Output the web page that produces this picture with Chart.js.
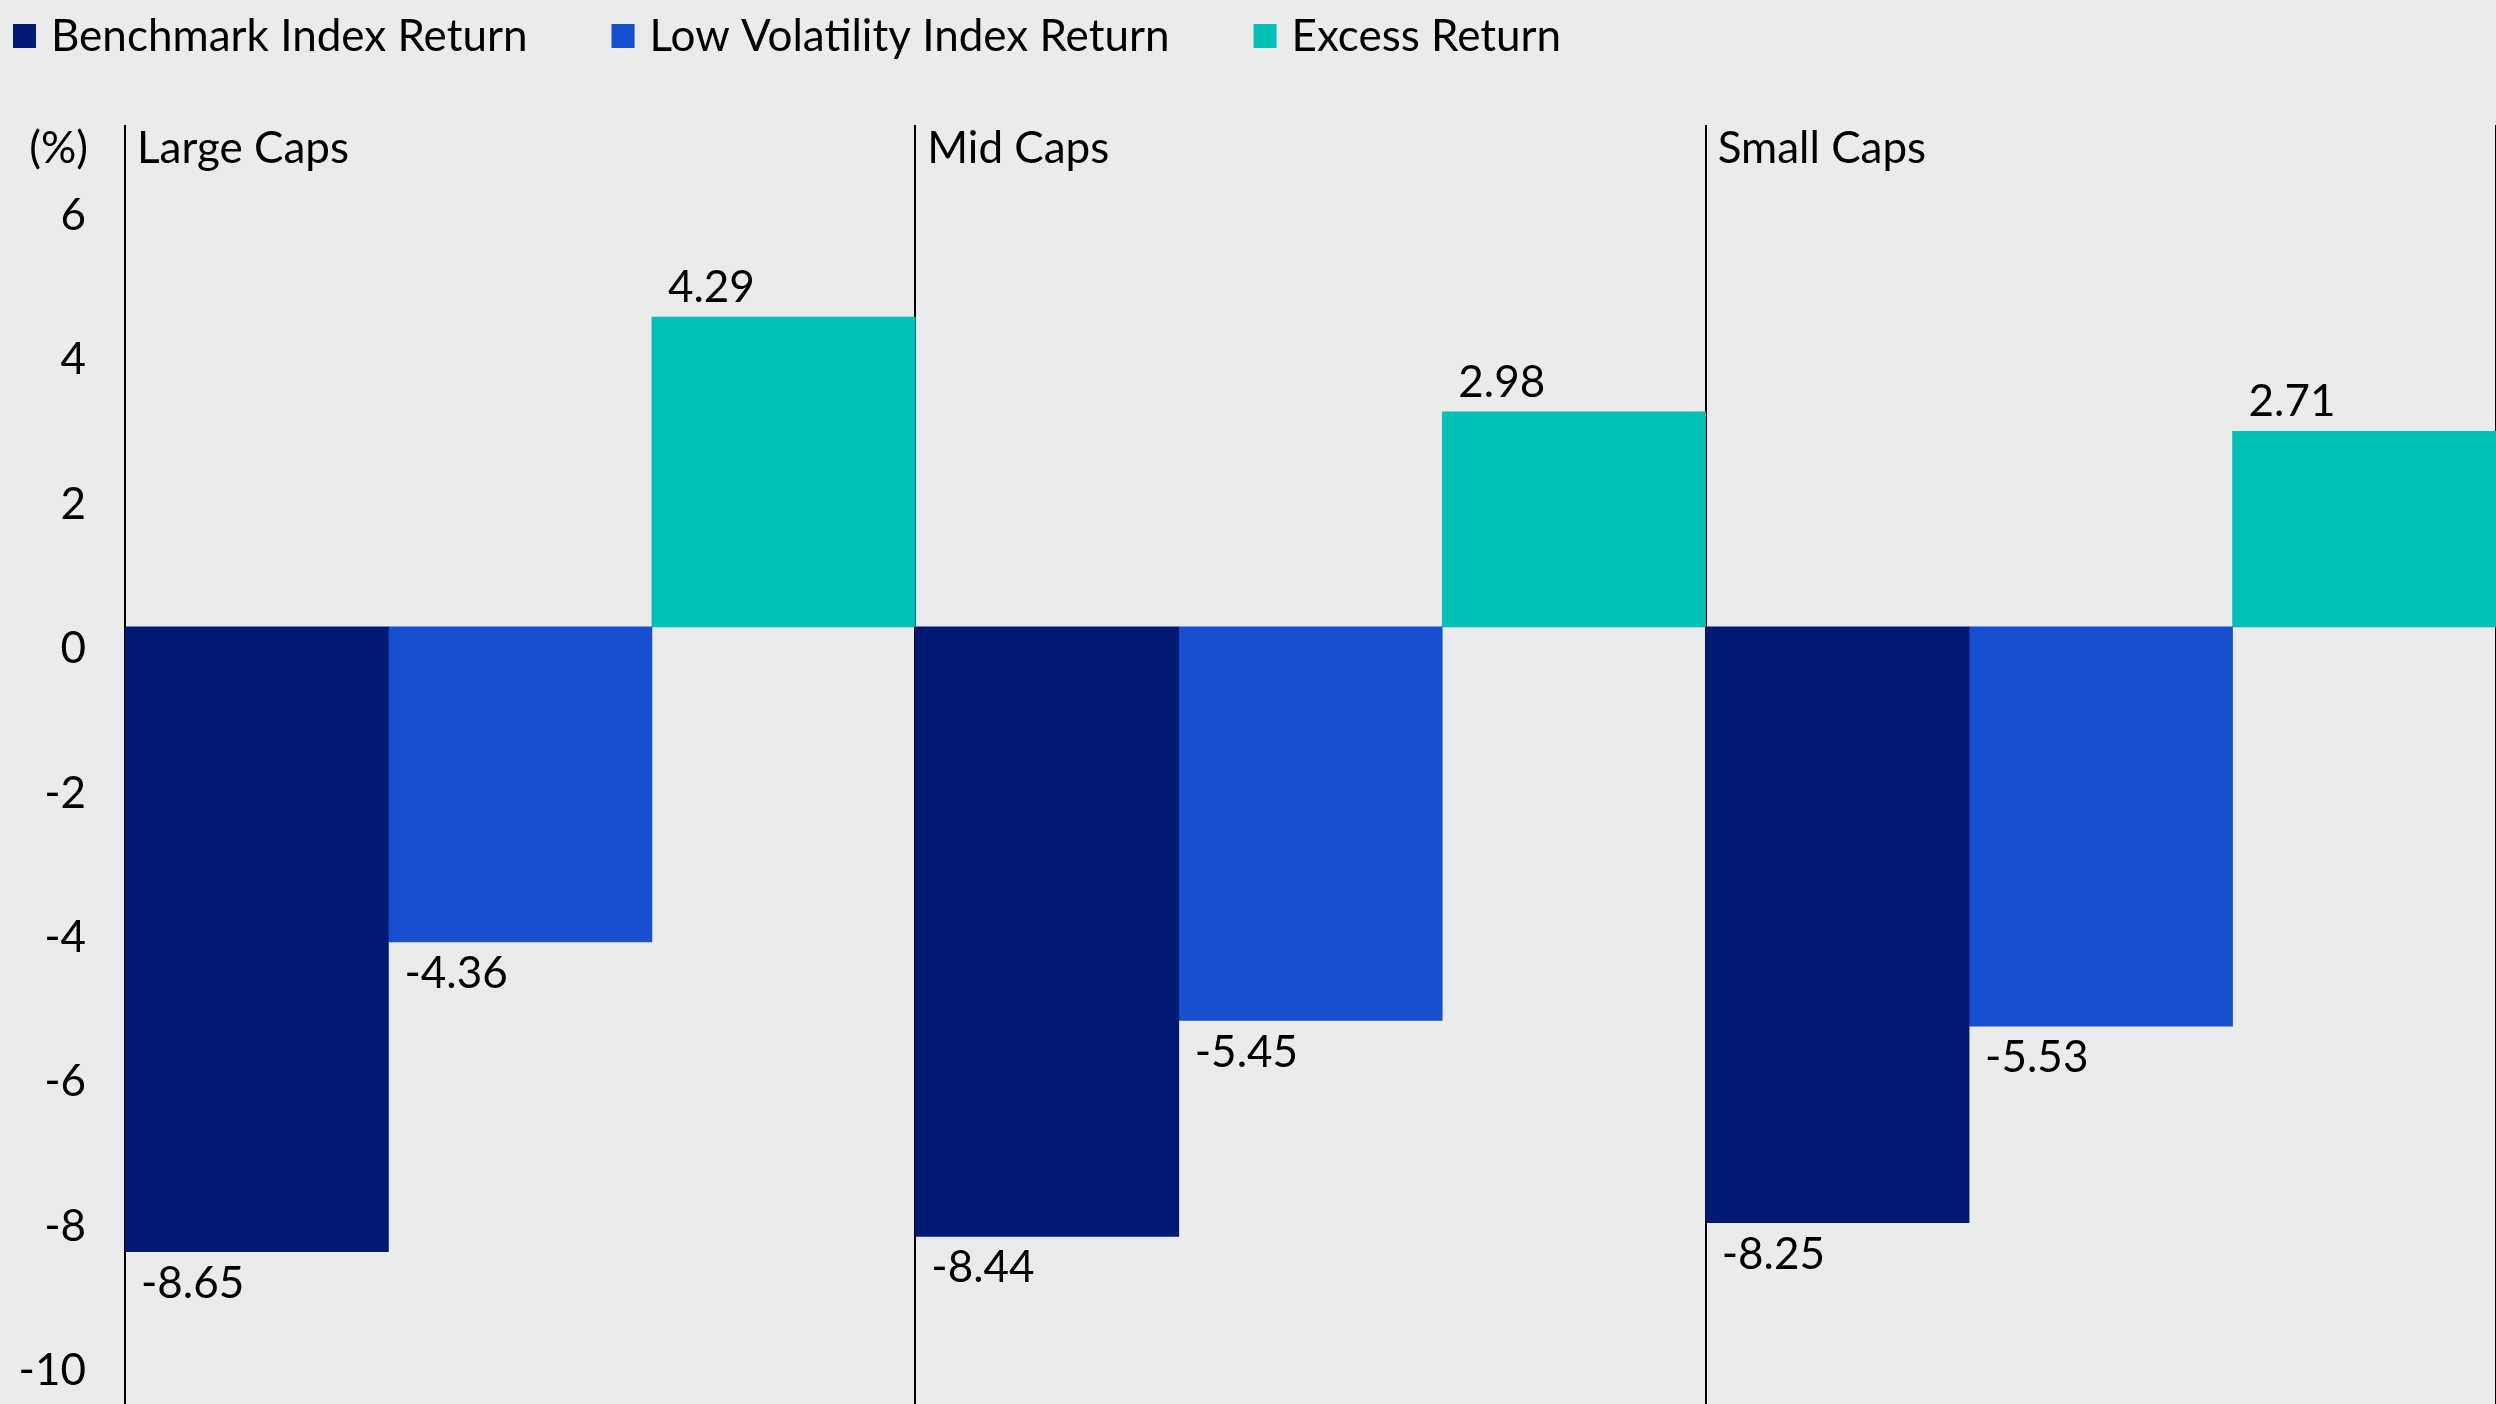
<!DOCTYPE html>
<html><head><meta charset="utf-8">
<script src="https://cdn.jsdelivr.net/npm/chart.js@4.4.1/dist/chart.umd.min.js"></script>
<style>
html,body{margin:0;padding:0;background:#ebebeb;overflow:hidden;}
#wrap{width:2496px;height:1404px;position:relative;}
canvas{display:block;}
</style></head><body>
<div id="wrap"><canvas id="c" width="2496" height="1404"></canvas></div>
<script>
const categories = ['Large Caps', 'Mid Caps', 'Small Caps'];
const seriesNames = ['Benchmark Index Return', 'Low Volatility Index Return', 'Excess Return'];
const benchmarkReturn = [-8.65, -8.44, -8.25];
const lowVolReturn = [-4.36, -5.45, -5.53];
const excessReturn = [4.29, 2.98, 2.71];
const yTickValues = [6, 4, 2, 0, -2, -4, -6, -8, -10];
const yUnitLabel = '(%)';
const seriesColors = ['#001a73', '#1650d0', '#00c0b6'];
const FONT_FAMILY = 'Lato';
const FONT_SIZE = 44;

const overlay = {
  id: 'overlay',
  afterDatasetsDraw(chart) {
    const ctx = chart.ctx;
    const xs = chart.scales.x;
    const area = chart.chartArea;
    ctx.save();
    ctx.fillStyle = '#000';
    ctx.font = FONT_SIZE + 'px ' + FONT_FAMILY;
    ctx.textBaseline = 'alphabetic';
    ctx.textAlign = 'left';
    // value labels
    chart.data.datasets.forEach((ds, di) => {
      const meta = chart.getDatasetMeta(di);
      meta.data.forEach((bar, i) => {
        const v = ds.data[i];
        const left = bar.x - bar.width / 2;
        const y = v >= 0 ? bar.y - 15 : bar.y + 46;
        ctx.fillText(v.toFixed(2), left + 16, y);
      });
    });
    // category labels
    const catW = xs.width / categories.length;
    categories.forEach((c, i) => {
      ctx.fillText(c, xs.getPixelForValue(i) - catW / 2 + 12, area.top + 38);
    });
    // unit label
    ctx.textAlign = 'right';
    ctx.fillText(yUnitLabel, area.left - 37, area.top + 38);
    // legend
    ctx.textAlign = 'left';
    let lx = 13;
    chart.data.datasets.forEach((ds, di) => {
      ctx.fillStyle = ds.backgroundColor;
      ctx.fillRect(lx, 24, 23, 24);
      ctx.fillStyle = '#000';
      ctx.fillText(ds.label, lx + 38, 51);
      lx += 38 + ctx.measureText(ds.label).width + 84;
    });
    ctx.restore();
  }
};

new Chart(document.getElementById('c'), {
  type: 'bar',
  data: {
    labels: categories,
    datasets: [
      { label: seriesNames[0], data: benchmarkReturn, backgroundColor: seriesColors[0] },
      { label: seriesNames[1], data: lowVolReturn, backgroundColor: seriesColors[1] },
      { label: seriesNames[2], data: excessReturn, backgroundColor: seriesColors[2] }
    ]
  },
  options: {
    responsive: false,
    animation: false,
    devicePixelRatio: 1,
    layout: { padding: { top: 125, left: 0, right: 0, bottom: 0 } },
    datasets: { bar: { categoryPercentage: 1, barPercentage: 1, borderWidth: 0 } },
    plugins: { legend: { display: false }, tooltip: { enabled: false } },
    scales: {
      x: {
        z: 1,
        grid: {
          offset: true,
          drawTicks: false,
          lineWidth: 2,
          color: (c) => (c.index >= categories.length ? 'rgba(0,0,0,0)' : '#000')
        },
        border: { display: false },
        ticks: { display: false },
        afterFit(s) { s.height = 0; s.paddingLeft = 0; s.paddingRight = 0; s.paddingTop = 0; s.paddingBottom = 0; }
      },
      y: {
        min: -10.76,
        max: 6.95,
        grid: { display: false, drawTicks: false },
        border: { display: false },
        ticks: {
          padding: 39,
          labelOffset: 22,
          color: '#000',
          font: { family: FONT_FAMILY, size: FONT_SIZE },
          callback: (v) => String(v)
        },
        afterBuildTicks(s) { s.ticks = yTickValues.map(v => ({ value: v })); },
        afterFit(s) { s.width = 125; s.paddingTop = 0; s.paddingBottom = 0; }
      }
    }
  },
  plugins: [overlay]
});
</script>
</body></html>
